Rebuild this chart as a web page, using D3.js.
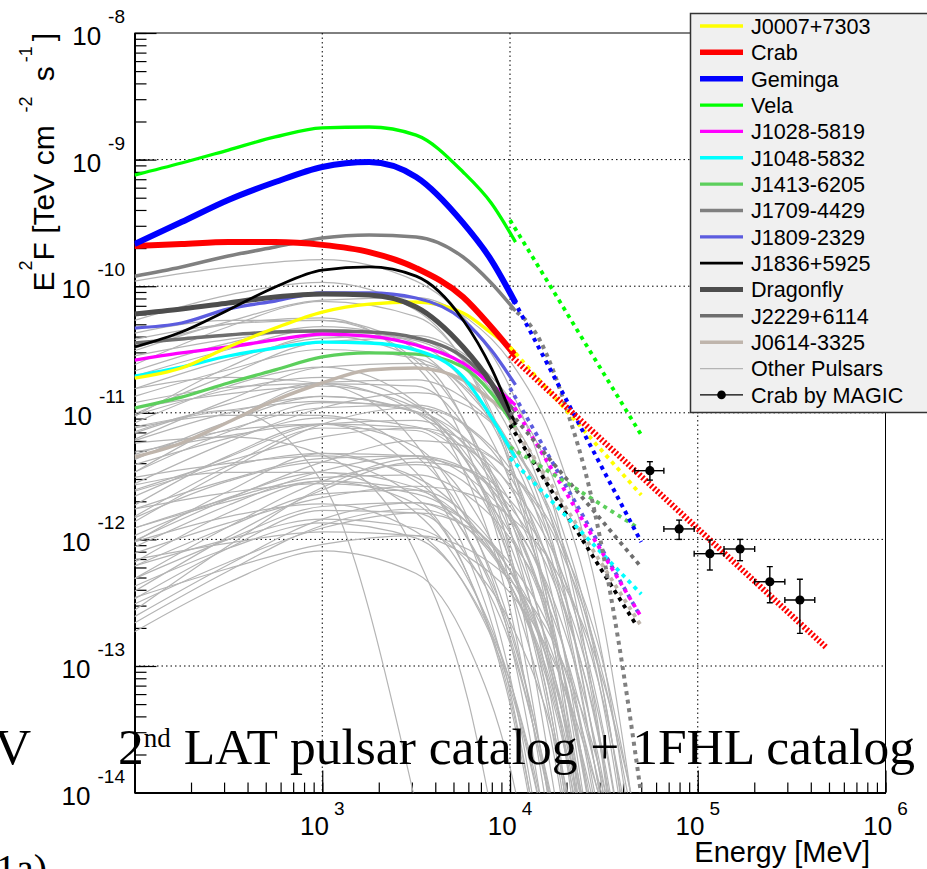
<!DOCTYPE html>
<html>
<head>
<meta charset="utf-8">
<script src="https://cdn.jsdelivr.net/npm/d3@7"></script>
<style>
  body { margin: 0; background: #fff; }
  svg { display: block; font-family: "Liberation Sans", Arial, sans-serif; }
</style>
</head>
<body>
<div id="chart"></div>
<script>
// energies in MeV, E^2 F in TeV cm^-2 s^-1
const energyGrid = [100, 178, 316, 562, 1000, 1778, 3162, 5623, 7943, 10700];

const fluxJ0007 = [1.88e-11, 2.26e-11, 3.31e-11, 4.67e-11, 6.25e-11, 7.23e-11, 7.50e-11, 6.14e-11, 4.27e-11, 3.02e-11];
const fluxCrab = [2.08e-10, 2.15e-10, 2.23e-10, 2.23e-10, 2.12e-10, 1.86e-10, 1.39e-10, 8.22e-11, 4.76e-11, 2.81e-11];
const fluxGeminga = [2.15e-10, 3.21e-10, 4.80e-10, 6.65e-10, 8.74e-10, 9.57e-10, 7.29e-10, 3.16e-10, 1.61e-10, 7.37e-11];
const fluxVela = [7.55e-10, 9.40e-10, 1.19e-9, 1.51e-9, 1.78e-9, 1.81e-9, 1.56e-9, 7.98e-10, 4.54e-10, 2.23e-10];
const fluxJ1028 = [2.61e-11, 2.97e-11, 3.31e-11, 3.76e-11, 4.19e-11, 4.04e-11, 3.43e-11, 2.47e-11, 1.69e-11, 1.15e-11];
const fluxJ1048 = [1.95e-11, 2.30e-11, 2.81e-11, 3.25e-11, 3.62e-11, 3.56e-11, 3.13e-11, 1.92e-11, 9.26e-12, 4.40e-12];
const fluxJ1413 = [1.09e-11, 1.33e-11, 1.72e-11, 2.18e-11, 2.76e-11, 2.97e-11, 2.91e-11, 2.30e-11, 1.43e-11, 7.59e-12];
const fluxJ1709 = [1.20e-10, 1.42e-10, 1.73e-10, 2.04e-10, 2.40e-10, 2.54e-10, 2.45e-10, 1.70e-10, 1.06e-10, 6.37e-11];
const fluxJ1809 = [4.67e-11, 5.12e-11, 6.61e-11, 7.64e-11, 8.84e-11, 8.84e-11, 8.07e-11, 5.41e-11, 3.13e-11, 1.66e-11];
const fluxJ1836 = [3.31e-11, 4.35e-11, 6.49e-11, 9.86e-11, 1.34e-10, 1.42e-10, 1.20e-10, 5.41e-11, 2.26e-11, 8.01e-12];
const fluxDragonfly = [6.03e-11, 6.61e-11, 7.37e-11, 8.22e-11, 8.68e-11, 8.52e-11, 6.85e-11, 3.31e-11, 1.72e-11, 8.01e-12];
const fluxJ2229 = [3.56e-11, 3.83e-11, 4.12e-11, 4.35e-11, 4.43e-11, 4.35e-11, 3.90e-11, 2.76e-11, 1.72e-11, 1.01e-11];
const fluxJ0614 = [4.48e-12, 5.77e-12, 8.46e-12, 1.26e-11, 1.72e-11, 2.18e-11, 2.26e-11, 1.82e-11, 1.26e-11, 8.77e-12];

// 1FHL extensions, [E, E^2F] pairs
const fhlVela = [[1e4, 3.33e-10], [5e4, 6.68e-12]];
const fhlGeminga = [[1e4, 8.84e-11], [5e4, 9.54e-13]];
const fhlCrab = [[1e4, 2.86e-11], [4.86e5, 1.39e-13]];
const fhlJ0007 = [[1e4, 3.31e-11], [5e4, 2.24e-12]];
const fhlJ1413 = [[1e4, 5.37e-12], [4.74e4, 1.25e-12]];
const fhlJ2229 = [[1e4, 1.01e-11], [5e4, 6.05e-13]];
const fhlJ1048 = [[1e4, 4.40e-12], [5e4, 3.70e-13]];
const fhlJ1028 = [[1e4, 1.26e-11], [5e4, 2.44e-13]];
const fhlJ1809 = [[1e4, 1.57e-11], [4.8e4, 2.67e-13]];
const fhlJ1836 = [[1e4, 8.01e-12], [4.74e4, 2.07e-13]];
const fhlJ0614 = [[1e4, 8.77e-12], [5e4, 2.07e-13]];
const fhlJ1709 = [[1e4, 6.85e-11], [1.44e4, 3.76e-11], [2.01e4, 1.05e-11], [2.66e4, 2.46e-12], [3.76e4, 1.66e-13], [4.98e4, 1.0e-14]];

// Crab by MAGIC
const magicE = [5.56e4, 7.96e4, 1.16e5, 1.68e5, 2.42e5, 3.50e5];
const magicELow = [4.62e4, 6.60e4, 9.57e4, 1.38e5, 2.01e5, 2.91e5];
const magicEHigh = [6.60e4, 9.57e4, 1.38e5, 2.01e5, 2.91e5, 4.20e5];
const magicF = [3.49e-12, 1.21e-12, 7.71e-13, 8.40e-13, 4.63e-13, 3.32e-13];
const magicFLow = [2.94e-12, 1.00e-12, 5.73e-13, 6.79e-13, 3.16e-13, 1.81e-13];
const magicFHigh = [4.11e-12, 1.42e-12, 9.89e-13, 1.00e-12, 6.09e-13, 4.84e-13];

// other pulsars: log10(E^2F) at otherE
const otherE = [100, 316, 1000, 3162, 6000, 10000, 17783, 31623, 50000];
const otherLogFlux = [
  [-9.96, -9.85, -9.79, -9.96, -10.29, -10.80, -11.85, -13.78, -16.38],
  [-10.27, -10.07, -9.97, -10.19, -10.66, -11.42, -12.98, -15.87],
  [-10.37, -10.27, -10.27, -10.59, -11.12, -11.92, -13.53, -16.47],
  [-10.49, -10.30, -10.25, -10.63, -11.31, -12.36, -14.48],
  [-10.55, -10.42, -10.35, -10.43, -10.66, -11.03, -11.79, -13.22, -15.16],
  [-10.62, -10.32, -10.12, -10.24, -10.65, -11.37, -12.88, -15.72],
  [-10.81, -10.72, -10.77, -11.25, -11.99, -13.08, -15.25],
  [-10.87, -10.66, -10.50, -10.57, -10.84, -11.31, -12.31, -14.19],
  [-10.96, -10.85, -10.79, -10.96, -11.29, -11.80, -12.85, -14.78],
  [-11.02, -10.82, -10.72, -10.94, -11.41, -12.17, -13.73, -16.62],
  [-11.08, -10.79, -10.64, -10.92, -11.54, -12.55, -14.62],
  [-11.12, -11.02, -11.02, -11.34, -11.87, -12.67, -14.28],
  [-11.16, -10.93, -10.76, -10.74, -10.91, -11.24, -11.95, -13.33, -15.23],
  [-11.21, -10.90, -10.64, -10.61, -10.82, -11.25, -12.20, -14.03],
  [-11.24, -11.19, -11.33, -12.12, -13.28, -14.94],
  [-11.33, -11.14, -11.09, -11.47, -12.15, -13.20, -15.32],
  [-11.37, -11.07, -10.87, -10.99, -11.40, -12.12, -13.63, -16.47],
  [-11.41, -11.20, -11.04, -11.11, -11.38, -11.85, -12.85, -14.73],
  [-11.47, -11.07, -10.77, -10.79, -11.15, -11.82, -13.28, -16.07],
  [-11.51, -11.40, -11.34, -11.51, -11.84, -12.35, -13.40, -15.33],
  [-11.56, -11.23, -10.96, -10.84, -10.95, -11.24, -11.90, -13.23, -15.09],
  [-11.62, -11.42, -11.32, -11.54, -12.01, -12.77, -14.33],
  [-11.66, -11.35, -11.09, -11.06, -11.27, -11.70, -12.65, -14.48],
  [-11.73, -11.34, -11.09, -11.27, -11.84, -12.80, -14.82],
  [-11.76, -11.53, -11.36, -11.34, -11.51, -11.84, -12.55, -13.93, -15.83],
  [-11.83, -11.54, -11.39, -11.67, -12.29, -13.30, -15.37],
  [-11.86, -11.45, -11.09, -10.96, -11.12, -11.50, -12.40, -14.18],
  [-11.91, -11.70, -11.54, -11.61, -11.88, -12.35, -13.35, -15.23],
  [-11.97, -11.67, -11.47, -11.59, -12.00, -12.72, -14.23],
  [-12.02, -11.62, -11.32, -11.34, -11.70, -12.37, -13.83, -16.62],
  [-12.06, -11.73, -11.46, -11.34, -11.45, -11.74, -12.40, -13.73, -15.59],
  [-12.11, -11.87, -11.67, -11.58, -11.64, -11.82, -12.26, -13.14, -14.37],
  [-12.18, -11.79, -11.54, -11.72, -12.29, -13.25, -15.27],
  [-12.21, -11.90, -11.64, -11.61, -11.82, -12.25, -13.20, -15.03],
  [-12.31, -11.90, -11.54, -11.41, -11.57, -11.95, -12.85, -14.63],
  [-12.37, -12.07, -11.87, -11.99, -12.40, -13.12, -14.63],
  [-12.47, -12.07, -11.77, -11.79, -12.15, -12.82, -14.28],
  [-12.51, -12.18, -11.91, -11.79, -11.90, -12.19, -12.85, -14.18],
  [-12.61, -12.20, -11.84, -11.71, -11.87, -12.25, -13.15, -14.93],
  [-12.73, -12.34, -12.09, -12.27, -12.84, -13.80, -15.82],
  [-11.15, -10.98, -11.55, -14.10],
  [-10.71, -10.50, -10.34, -10.41, -10.68, -11.15, -12.15, -14.03],
  [-10.51, -10.28, -10.11, -10.09, -10.26, -10.59, -11.30, -12.68, -14.58],
  [-11.03, -10.64, -10.39, -10.57, -11.14, -12.10, -14.12],
  [-11.31, -11.18, -11.09, -11.12, -11.29, -11.57, -12.17, -13.30, -14.83],
  [-11.61, -11.38, -11.19, -11.12, -11.23, -11.47, -12.02, -13.10, -14.59],
  [-12.01, -11.68, -11.39, -11.22, -11.27, -11.47, -11.97, -13.00, -14.45],
  [-11.22, -11.00, -10.87, -11.00, -11.35, -11.94, -13.16, -15.44],
  [-11.47, -11.15, -10.92, -10.95, -11.24, -11.79, -12.96, -15.19],
  [-10.92, -10.80, -10.77, -11.00, -11.41, -12.04, -13.31, -15.64],
  [-12.41, -11.98, -11.61, -11.39, -11.45, -11.69, -12.30, -13.58, -15.40],
  [-12.56, -12.05, -11.59, -11.36, -11.46, -11.80, -12.65, -14.38],
  [-12.21, -12.00, -11.84, -11.91, -12.18, -12.65, -13.65, -15.53],
  [-11.76, -11.63, -11.56, -11.64, -11.87, -12.24, -13.00, -14.43],
  [-10.81, -10.58, -10.41, -10.39, -10.56, -10.89, -11.60, -12.98, -14.88],
  [-11.01, -10.70, -10.44, -10.41, -10.62, -11.05, -12.00, -13.83, -16.35],
  [-11.91, -11.68, -11.51, -11.49, -11.66, -11.99, -12.70, -14.08],
  [-12.31, -12.00, -11.74, -11.71, -11.92, -12.35, -13.30, -15.13],
  [-11.36, -11.13, -10.96, -10.94, -11.11, -11.44, -12.15, -13.53, -15.43],
  [-12.66, -12.25, -11.89, -11.76, -11.92, -12.30, -13.20, -14.98],
  [-11.57, -11.47, -11.47, -11.79, -12.32, -13.12, -14.73],
  [-10.67, -10.45, -10.32, -10.45, -10.80, -11.39, -12.61, -14.89],
  [-12.02, -11.82, -11.72, -11.94, -12.41, -13.17, -14.73],
  [-11.11, -10.98, -10.91, -10.99, -11.22, -11.59, -12.35, -13.78, -15.72],
  [-12.46, -12.23, -12.04, -11.97, -12.08, -12.32, -12.87, -13.95, -15.44],
  [-11.82, -11.42, -11.12, -11.14, -11.50, -12.17, -13.63, -16.42],
  [-10.42, -10.30, -10.27, -10.50, -10.91, -11.54, -12.81, -15.14],
  [-12.16, -12.03, -11.94, -11.97, -12.14, -12.42, -13.02, -14.15]
];

const legendNames = ["J0007+7303", "Crab", "Geminga", "Vela", "J1028-5819", "J1048-5832", "J1413-6205",
  "J1709-4429", "J1809-2329", "J1836+5925", "Dragonfly", "J2229+6114", "J0614-3325", "Other Pulsars", "Crab by MAGIC"];
const xDecades = [1e2, 1e3, 1e4, 1e5, 1e6];
const yDecades = [1e-14, 1e-13, 1e-12, 1e-11, 1e-10, 1e-9, 1e-8];

const style = {
  "J0007+7303": {color: "#ffff00", width: 3.3},
  "Crab": {color: "#ff0000", width: 6},
  "Geminga": {color: "#0000ff", width: 6},
  "Vela": {color: "#00ff00", width: 3.3},
  "J1028-5819": {color: "#ff00ff", width: 3.3},
  "J1048-5832": {color: "#00ffff", width: 3.3},
  "J1413-6205": {color: "#5ccf5c", width: 3.3},
  "J1709-4429": {color: "#808080", width: 3.5},
  "J1809-2329": {color: "#5c5cdf", width: 3.3},
  "J1836+5925": {color: "#000000", width: 2.8},
  "Dragonfly": {color: "#4d4d4d", width: 5.2},
  "J2229+6114": {color: "#6e6e6e", width: 3.5},
  "J0614-3325": {color: "#bfb5ac", width: 3.5},
  "Other Pulsars": {color: "#b4b4b4", width: 1.2}
};

class PulsarSedChart {
  constructor(container) {
    this.width = 927;
    this.height = 869;
    this.left = 134.5; this.right = 885.5; this.top = 33; this.bottom = 792.6;
    this.x = d3.scaleLog().domain([100, 1e6]).range([this.left, this.right]);
    this.y = d3.scaleLog().domain([1e-14, 1e-8]).range([this.bottom, this.top]);
    this.svg = d3.select(container).append("svg")
      .attr("width", this.width).attr("height", this.height);
  }

  draw() {
    const svg = this.svg, x = this.x, y = this.y;

    svg.append("defs").append("clipPath").attr("id", "frame")
      .append("rect").attr("x", this.left).attr("y", this.top)
      .attr("width", this.right - this.left).attr("height", this.bottom - this.top);

    // grid
    const grid = svg.append("g").attr("stroke", "#000").attr("stroke-width", 1).attr("stroke-dasharray", "1.5,3");
    grid.selectAll(".gx").data(xDecades.slice(1, -1)).join("line")
      .attr("x1", d => x(d)).attr("x2", d => x(d)).attr("y1", this.top).attr("y2", this.bottom);
    grid.selectAll(".gy").data(yDecades.slice(1, -1)).join("line")
      .attr("x1", this.left).attr("x2", this.right).attr("y1", d => y(d)).attr("y2", d => y(d));

    this.drawAxes();

    const plot = svg.append("g").attr("clip-path", "url(#frame)");
    const line = d3.line().x(d => x(d[0])).y(d => y(d[1])).curve(d3.curveMonotoneX);

    plot.append("g").selectAll("path").data(otherLogFlux).join("path")
      .attr("d", d => line(d.map((v, i) => [otherE[i], 10 ** v])))
      .attr("fill", "none").attr("stroke", style["Other Pulsars"].color)
      .attr("stroke-width", style["Other Pulsars"].width);

    const solids = [
      ["J0614-3325", fluxJ0614], ["J2229+6114", fluxJ2229], ["J1413-6205", fluxJ1413],
      ["J1048-5832", fluxJ1048], ["J1028-5819", fluxJ1028], ["J0007+7303", fluxJ0007],
      ["J1809-2329", fluxJ1809], ["Dragonfly", fluxDragonfly], ["J1836+5925", fluxJ1836],
      ["J1709-4429", fluxJ1709], ["Vela", fluxVela], ["Crab", fluxCrab], ["Geminga", fluxGeminga]
    ];
    solids.forEach(([name, flux]) => {
      plot.append("path")
        .attr("d", line(flux.map((f, i) => [energyGrid[i], f])))
        .attr("fill", "none").attr("stroke", style[name].color)
        .attr("stroke-width", style[name].width);
    });

    const dotted = [
      ["J0614-3325", fhlJ0614, 3.8], ["J1836+5925", fhlJ1836, 3.8], ["J1809-2329", fhlJ1809, 3.8],
      ["J1028-5819", fhlJ1028, 3.8], ["J1048-5832", fhlJ1048, 3.8], ["J2229+6114", fhlJ2229, 3.8],
      ["J1413-6205", fhlJ1413, 3.8], ["J1709-4429", fhlJ1709, 4], ["J0007+7303", fhlJ0007, 3.8],
      ["Geminga", fhlGeminga, 4], ["Vela", fhlVela, 3.8]
    ];
    dotted.forEach(([name, pts, w]) => {
      plot.append("path").attr("d", line(pts))
        .attr("fill", "none").attr("stroke", style[name].color)
        .attr("stroke-width", w).attr("stroke-dasharray", "4,4.5");
    });
    plot.append("path").attr("d", line(fhlCrab))
      .attr("fill", "none").attr("stroke", "#ff0000")
      .attr("stroke-width", 6).attr("stroke-dasharray", "2,2");

    // MAGIC points
    const m = plot.append("g").attr("stroke", "#000").attr("stroke-width", 1.4);
    magicE.forEach((e, i) => {
      const cx = x(e), cy = y(magicF[i]);
      const x0 = x(magicELow[i]), x1 = x(magicEHigh[i]);
      const y0 = y(magicFLow[i]), y1 = y(magicFHigh[i]);
      m.append("line").attr("x1", x0).attr("x2", x1).attr("y1", cy).attr("y2", cy);
      m.append("line").attr("x1", cx).attr("x2", cx).attr("y1", y0).attr("y2", y1);
      [x0, x1].forEach(xx => m.append("line").attr("x1", xx).attr("x2", xx).attr("y1", cy - 3).attr("y2", cy + 3));
      [y0, y1].forEach(yy => m.append("line").attr("x1", cx - 3).attr("x2", cx + 3).attr("y1", yy).attr("y2", yy));
      m.append("circle").attr("cx", cx).attr("cy", cy).attr("r", 4.6).attr("fill", "#000").attr("stroke", "none");
    });

    this.drawLegend();
    this.drawTexts();
  }

  drawAxes() {
    const svg = this.svg, x = this.x, y = this.y;

    const xAxisMinor = d3.axisBottom(x).tickValues(x.ticks()).tickSize(-10).tickSizeOuter(0).tickFormat("");
    const xAxisMajor = d3.axisBottom(x).tickValues(xDecades).tickSize(-22).tickSizeOuter(0).tickFormat("");
    const yAxisMinor = d3.axisLeft(y).tickValues(y.ticks()).tickSize(-12).tickSizeOuter(0).tickFormat("");
    const yAxisMajor = d3.axisLeft(y).tickValues(yDecades).tickSize(-22).tickSizeOuter(0).tickFormat("");

    [xAxisMinor, xAxisMajor].forEach(ax => {
      svg.append("g").attr("transform", `translate(0,${this.bottom})`).call(ax)
        .call(g => g.select(".domain").attr("stroke-width", 2))
        .call(g => g.selectAll(".tick line").attr("stroke-width", 1.2));
    });
    [yAxisMinor, yAxisMajor].forEach(ax => {
      svg.append("g").attr("transform", `translate(${this.left},0)`).call(ax)
        .call(g => g.select(".domain").attr("stroke-width", 2))
        .call(g => g.selectAll(".tick line").attr("stroke-width", 1.2));
    });

    // frame top / right
    svg.append("line").attr("x1", this.left).attr("x2", this.right).attr("y1", this.top).attr("y2", this.top)
      .attr("stroke", "#000").attr("stroke-width", 1);
    svg.append("line").attr("x1", this.right).attr("x2", this.right).attr("y1", this.top).attr("y2", this.bottom)
      .attr("stroke", "#000").attr("stroke-width", 1);

    // tick labels 10^n
    yDecades.forEach(v => {
      const t = svg.append("text").attr("x", 125).attr("y", y(v) + 12)
        .attr("text-anchor", "end").attr("fill", "#000");
      t.append("tspan").attr("font-size", 26).text("10");
      t.append("tspan").attr("font-size", 19).attr("dx", 7).attr("dy", -22).text(Math.round(Math.log10(v)));
    });
    xDecades.slice(1).forEach(v => {
      const t = svg.append("text").attr("x", x(v)).attr("y", 835)
        .attr("text-anchor", "middle").attr("fill", "#000");
      t.append("tspan").attr("font-size", 26).text("10");
      t.append("tspan").attr("font-size", 19).attr("dx", 5).attr("dy", -20).text(Math.round(Math.log10(v)));
    });

    // axis titles
    const yt = svg.append("text").attr("transform", `translate(54,${this.top}) rotate(-90)`)
      .attr("text-anchor", "end").attr("font-size", 30).attr("fill", "#000");
    yt.append("tspan").text("E");
    yt.append("tspan").attr("font-size", 18).attr("dx", 1).attr("dy", -22).text("2");
    yt.append("tspan").attr("dx", 0).attr("dy", 22).text("F [TeV cm");
    yt.append("tspan").attr("font-size", 18).attr("dx", 13).attr("dy", -22).text("-2");
    yt.append("tspan").attr("dx", 15).attr("dy", 22).text("s");
    yt.append("tspan").attr("font-size", 18).attr("dx", 4).attr("dy", -22).text("-1");
    yt.append("tspan").attr("dx", 5).attr("dy", 22).text("]");

    svg.append("text").attr("x", 870).attr("y", 862).attr("text-anchor", "end")
      .attr("font-size", 29).attr("fill", "#000").text("Energy [MeV]");
  }

  drawLegend() {
    const svg = this.svg;
    const g = svg.append("g");
    g.append("rect").attr("x", 690.5).attr("y", 13.5).attr("width", 245).attr("height", 399)
      .attr("fill", "#f0f0f0").attr("stroke", "#333").attr("stroke-width", 1.5);
    const rowH = 26.35, y0 = 26;
    legendNames.forEach((name, i) => {
      const cy = y0 + i * rowH;
      if (style[name]) {
        g.append("line").attr("x1", 700).attr("x2", 743).attr("y1", cy).attr("y2", cy)
          .attr("stroke", style[name].color).attr("stroke-width", Math.min(style[name].width, 5.5));
      } else {
        g.append("line").attr("x1", 700).attr("x2", 743).attr("y1", cy).attr("y2", cy)
          .attr("stroke", "#000").attr("stroke-width", 1.2);
        g.append("circle").attr("cx", 721.5).attr("cy", cy).attr("r", 4.3).attr("fill", "#000");
      }
      g.append("text").attr("x", 751).attr("y", cy + 7.8).attr("font-size", 21.6)
        .attr("fill", "#000").text(name);
    });
  }

  drawTexts() {
    const svg = this.svg;
    const serif = "'Liberation Serif', 'Times New Roman', serif";
    const t = svg.append("text").attr("x", 118).attr("y", 764)
      .attr("font-family", serif).attr("font-size", 51.5).attr("fill", "#000");
    t.append("tspan").text("2");
    t.append("tspan").attr("font-size", 27).attr("dy", -17).text("nd");
    t.append("tspan").attr("dy", 17).text(" LAT pulsar catalog + 1FHL catalog");

    svg.append("text").attr("x", -6).attr("y", 764).attr("font-family", serif)
      .attr("font-size", 51.5).attr("fill", "#000").text("V");
    svg.append("text").attr("x", -4).attr("y", 882).attr("font-family", serif)
      .attr("font-size", 40).attr("fill", "#000").text("1a)");
  }
}

const chart = new PulsarSedChart("#chart");
chart.draw();
</script>
</body>
</html>
